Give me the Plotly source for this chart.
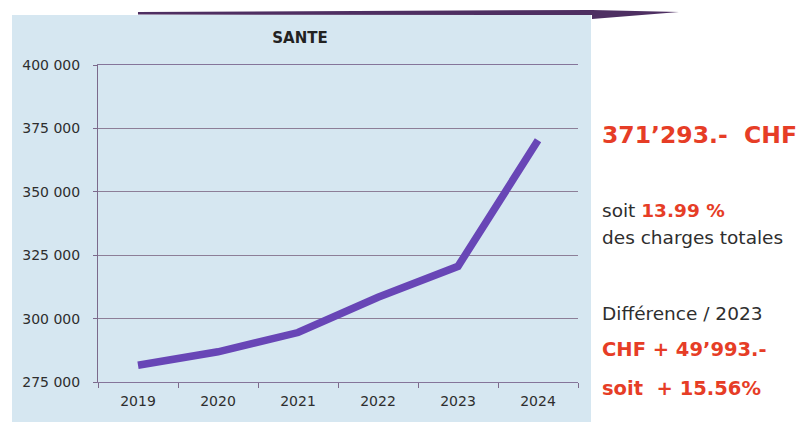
import plotly.graph_objects as go

# données
annees = ["2019", "2020", "2021", "2022", "2023", "2024"]
charges_sante = [281600, 286900, 294500, 308400, 320600, 370300]
y_ticks = [275000, 300000, 325000, 350000, 375000, 400000]
y_labels = ["275 000", "300 000", "325 000", "350 000", "375 000", "400 000"]

W, H = 800, 424
L, R, T, B = 98, 578, 65, 382  # zone de tracé en pixels


def px(x, y):
    """pixel -> coordonnées paper"""
    return (x - L) / (R - L), (B - y) / (B - T)


fig = go.Figure()

fig.add_trace(
    go.Scatter(
        x=annees,
        y=charges_sante,
        mode="lines",
        line=dict(color="#6846b6", width=7.5),
        hoverinfo="x+y",
        showlegend=False,
    )
)

# panneau bleu clair derrière le graphique
x0, y0 = px(12, 422)
x1, y1 = px(591, 15)
shapes = [
    dict(type="rect", xref="paper", yref="paper", x0=x0, y0=y0, x1=x1, y1=y1,
         fillcolor="#d6e7f1", line_width=0, layer="below"),
]

# barre violette décorative en haut
pts = [px(138, 12), px(592, 10), px(679, 12), px(592, 19), px(592, 15), px(138, 14.5)]
path = "M " + " L ".join(f"{a:.4f},{b:.4f}" for a, b in pts) + " Z"
shapes.append(dict(type="path", xref="paper", yref="paper", path=path,
                   fillcolor="#4e2f62", line_width=0, layer="above"))

rouge = "#e63d26"
gris = "#2e2e2e"
police = "DejaVu Sans"


def texte(x, y, t, size, color=gris, bold=False):
    ax, ay = px(x, y)
    return dict(x=ax, y=ay, xref="paper", yref="paper", xanchor="left", yanchor="middle",
                text=f"<b>{t}</b>" if bold else t, showarrow=False,
                font=dict(family=police, size=size, color=color))


annotations = [
    texte(600, 135, "371’293.-  CHF", 23.5, rouge, True),
    texte(600, 210, f"soit <b><span style='color:{rouge}'>13.99 %</span></b>", 18.5),
    texte(600, 237, "des charges totales", 18.5),
    texte(600, 313, "Différence / 2023", 18.5),
    texte(600, 349, "CHF + 49’993.-", 19.5, rouge, True),
    texte(600, 388, "soit  + 15.56%", 19.5, rouge, True),
]

fig.update_layout(
    width=W,
    height=H,
    margin=dict(l=L, r=W - R, t=T, b=H - B, pad=0),
    paper_bgcolor="white",
    plot_bgcolor="#d6e7f1",
    title=dict(text="<b>SANTE</b>", x=px(300, 0)[0], xref="paper", xanchor="center",
               y=1 - 38 / H, yanchor="middle",
               font=dict(family=police, size=15, color="#222222")),
    shapes=shapes,
    annotations=annotations,
    font=dict(family=police, size=13, color=gris),
)

fig.update_xaxes(
    type="category",
    range=[-0.5, 5.5],
    showgrid=False,
    showline=True,
    mirror=True,
    linecolor="#85759a",
    linewidth=1,
    ticks="outside",
    tickson="boundaries",
    ticklen=5,
    tickcolor="#7c6a8c",
    ticklabelstandoff=6,
    tickfont=dict(size=14, color=gris),
)

fig.update_yaxes(
    range=[275000, 400000],
    tickvals=y_ticks,
    ticktext=y_labels,
    showgrid=True,
    gridcolor="#8d7f98",
    gridwidth=1,
    showline=True,
    linecolor="#7c6a8c",
    linewidth=1,
    ticks="outside",
    ticklen=4,
    tickcolor="#7c6a8c",
    zeroline=False,
    ticklabelstandoff=10,
    tickfont=dict(size=14, color=gris),
)

# la page ajoute une marge de 8 px autour du graphique : on la retire
fig.write_html("out.html", config={"displayModeBar": False},
               post_script="document.body.style.margin='0';")
